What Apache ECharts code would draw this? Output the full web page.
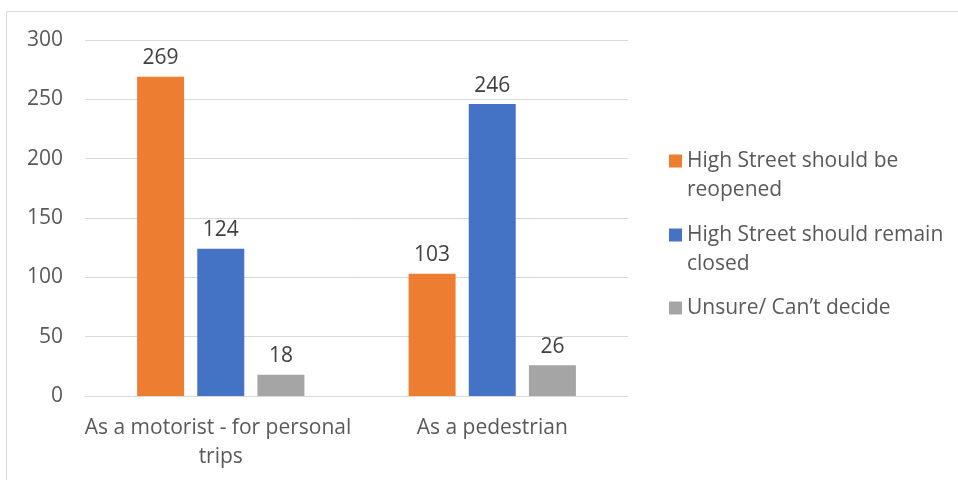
<!DOCTYPE html>
<html>
<head>
<meta charset="utf-8">
<script src="https://cdn.jsdelivr.net/npm/echarts@6/dist/echarts.min.js"></script>
<style>
  html, body { margin: 0; padding: 0; background: #ffffff; }
  #chart { width: 958px; height: 480px; }
</style>
</head>
<body>
<div id="chart"></div>
<script>
// Survey responses by road-user type
const categories = ['As a motorist - for personal trips', 'As a pedestrian'];
const seriesNames = ['High Street should be reopened', 'High Street should remain closed', 'Unsure/ Can\u2019t decide'];
const reopened = [269, 103];
const remainClosed = [124, 246];
const unsure = [18, 26];
const yTicks = [0, 50, 100, 150, 200, 250, 300];

const colors = ['#ED7D31', '#4472C4', '#A5A5A5'];
const font = '"Open Sans", Lato, sans-serif';
const fontSize = 21;
const values = [reopened, remainClosed, unsure];

// Wrapped legend labels; a blank leading line keeps the swatch beside the first line
const legendText = {
  'High Street should be reopened': ' \nHigh Street should be\nreopened',
  'High Street should remain closed': ' \nHigh Street should remain\nclosed',
  'Unsure/ Can\u2019t decide': 'Unsure/ Can\u2019t decide'
};

function legendFor(i, top) {
  return {
    show: true,
    data: [seriesNames[i]],
    left: 669,
    top: top,
    padding: 0,
    orient: 'vertical',
    icon: 'rect',
    itemWidth: 13,
    itemHeight: 13,
    selectedMode: false,
    formatter: function (n) { return legendText[n]; },
    textStyle: {
      fontFamily: font,
      fontSize: fontSize,
      color: '#595959',
      lineHeight: 29
    }
  };
}

const chart = echarts.init(document.getElementById('chart'), null, { renderer: 'canvas' });

chart.setOption({
  animation: false,
  backgroundColor: '#ffffff',
  textStyle: { fontFamily: font },
  graphic: [{
    type: 'rect',
    shape: { x: 6.5, y: 11.5, width: 1200, height: 1200 },
    style: { fill: 'none', stroke: '#d9d9d9', lineWidth: 1 },
    silent: true
  }],
  grid: { left: 85, right: 330, top: 40, bottom: 84 },
  legend: [
    legendFor(0, 117.5),
    legendFor(1, 191.5),
    legendFor(2, 293.5)
  ],
  xAxis: {
    type: 'category',
    data: categories,
    axisLine: { show: true, lineStyle: { color: '#d9d9d9', width: 1 } },
    axisTick: { show: false },
    axisLabel: {
      color: '#595959',
      fontFamily: font,
      fontSize: fontSize,
      lineHeight: 29,
      margin: 18,
      width: 280,
      overflow: 'break',
      interval: 0
    }
  },
  yAxis: {
    type: 'value',
    min: yTicks[0],
    max: yTicks[yTicks.length - 1],
    interval: 50,
    axisLine: { show: false },
    axisTick: { show: false },
    splitLine: { lineStyle: { color: '#d9d9d9', width: 1 } },
    axisLabel: {
      color: '#595959',
      fontFamily: font,
      fontSize: fontSize,
      margin: 22
    }
  },
  series: seriesNames.map(function (name, i) {
    return {
      name: name,
      type: 'bar',
      data: values[i],
      barWidth: 47,
      barGap: '28%',
      itemStyle: { color: colors[i] },
      label: {
        show: true,
        position: 'top',
        distance: 8,
        color: '#404040',
        fontFamily: font,
        fontSize: fontSize
      }
    };
  })
});
</script>
</body>
</html>
